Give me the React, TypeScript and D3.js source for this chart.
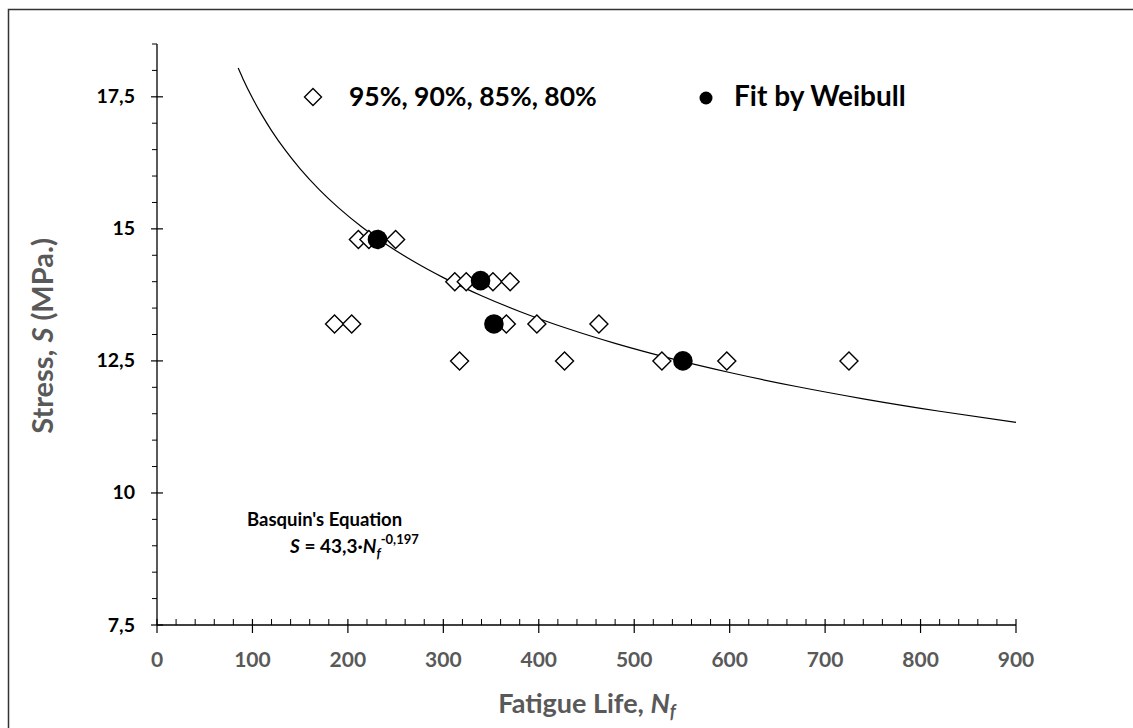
import React from "react";
import * as d3 from "d3";

// ---- data ----
const stressLevels = [14.8, 14.0, 13.2, 12.5];
const lives148 = [211, 222, 232, 250];
const lives140 = [312, 324, 352, 370];
const lives132 = [186, 204, 366, 398, 463];
const lives125 = [317, 427, 529, 597, 725];
const weibullLives = [231, 339, 353, 551];
const weibullStress = [14.8, 14.02, 13.2, 12.5];
const basquinA = 43.3;
const basquinB = -0.197;
const curveN = [85, 90, 100, 110, 120, 135, 150, 170, 190, 215, 240, 270, 300, 340, 380, 430, 480, 540, 600, 670, 740, 820, 900];
const xTicks = [0, 100, 200, 300, 400, 500, 600, 700, 800, 900];
const yTicks = [7.5, 10, 12.5, 15, 17.5];
const yTickLabels = ["7,5", "10", "12,5", "15", "17,5"];

const W = 1133;
const H = 728;
const FONT = "Lato, 'Open Sans', sans-serif";
const GREY = "#595959";

export default function App() {
  const x = d3.scaleLinear().domain([0, 900]).range([157, 1016]);
  const y = d3.scaleLinear().domain([7.5, 18.5]).range([625, 44]);

  const groups = [lives148, lives140, lives132, lives125];
  const diamonds: { n: number; s: number }[] = [];
  groups.forEach((g, i) => g.forEach((n) => diamonds.push({ n, s: stressLevels[i] })));

  const line = d3
    .line<number>()
    .x((n) => x(n))
    .y((n) => y(basquinA * Math.pow(n, basquinB)))
    .curve(d3.curveMonotoneX);

  const minorX = d3.range(0, 901, 20).filter((v) => v % 100 !== 0);
  const minorY = d3.range(7.5, 18.51, 0.5).filter((v) => Math.abs(((v - 7.5) / 2.5) - Math.round((v - 7.5) / 2.5)) > 1e-6);

  const diamond = (cx: number, cy: number, r: number) =>
    `M${cx},${cy - r}L${cx + r},${cy}L${cx},${cy + r}L${cx - r},${cy}Z`;

  return (
    <svg
      width={W}
      height={H}
      style={{ position: "absolute", left: 0, top: 0, background: "#fff" }}
      fontFamily={FONT}
    >
      <rect x={0} y={0} width={W} height={H} fill="#fff" />
      <rect x={8.5} y={9.5} width={1140} height={740} fill="none" stroke="#333" strokeWidth={1.5} />

      {/* axes */}
      <line x1={x(0)} x2={x(900)} y1={y(7.5)} y2={y(7.5)} stroke="#000" strokeWidth={1.3} />
      <line x1={x(0)} x2={x(0)} y1={y(7.5)} y2={y(18.5)} stroke="#000" strokeWidth={1.3} />
      {minorX.map((v) => (
        <line key={"mx" + v} x1={x(v)} x2={x(v)} y1={y(7.5)} y2={y(7.5) - 6} stroke="#000" strokeWidth={1} />
      ))}
      {xTicks.map((v) => (
        <line key={"Mx" + v} x1={x(v)} x2={x(v)} y1={y(7.5) - 6} y2={y(7.5) + 8} stroke="#000" strokeWidth={1.2} />
      ))}
      {minorY.map((v) => (
        <line key={"my" + v} x1={x(0) - 5} x2={x(0)} y1={y(v)} y2={y(v)} stroke="#000" strokeWidth={1} />
      ))}
      {yTicks.map((v) => (
        <line key={"My" + v} x1={x(0) - 6} x2={x(0) + 6} y1={y(v)} y2={y(v)} stroke="#000" strokeWidth={1.2} />
      ))}
      {xTicks.map((v) => (
        <text key={"tx" + v} x={x(v)} y={667} textAnchor="middle" fontSize={21} fontWeight={700} fill={GREY}>
          {v}
        </text>
      ))}
      {yTicks.map((v, i) => (
        <text key={"ty" + v} x={135} y={y(v) + 6.5} textAnchor="end" fontSize={19.5} fontWeight={700} fill="#000">
          {yTickLabels[i]}
        </text>
      ))}

      {/* axis titles */}
      <text transform="translate(53,336) rotate(-90)" textAnchor="middle" fontSize={29} fontWeight={700} fill={GREY}>
        Stress, <tspan fontStyle="italic">S</tspan> (MPa.)
      </text>
      <text x={587} y={713} textAnchor="middle" fontSize={27} fontWeight={700} fill={GREY}>
        Fatigue Life, <tspan fontStyle="italic">N</tspan>
        <tspan fontStyle="italic" fontSize={18} dy={5}>f</tspan>
      </text>

      {/* curve */}
      <path d={line(curveN) || ""} fill="none" stroke="#000" strokeWidth={1.2} />

      {/* data */}
      {diamonds.map((d, i) => (
        <path key={"d" + i} d={diamond(x(d.n), y(d.s), 9)} fill="#fff" stroke="#000" strokeWidth={1.4} />
      ))}
      {weibullLives.map((n, i) => (
        <circle key={"c" + i} cx={x(n)} cy={y(weibullStress[i])} r={9.8} fill="#000" />
      ))}

      {/* legend */}
      <path d={diamond(313, 97, 8.5)} fill="#fff" stroke="#000" strokeWidth={1.4} />
      <text x={349} y={106} fontSize={26.5} fontWeight={700} fill="#000">95%, 90%, 85%, 80%</text>
      <circle cx={706} cy={98} r={6.5} fill="#000" />
      <text x={734} y={106} fontSize={28} fontWeight={700} fill="#000">Fit by Weibull</text>

      {/* equation */}
      <text x={247} y={526} fontSize={18.5} fontWeight={700} fill="#000">Basquin's Equation</text>
      <text x={290} y={553} fontSize={19} fontWeight={700} fill="#000">
        <tspan fontStyle="italic">S</tspan> = 43,3·<tspan fontStyle="italic">N</tspan>
        <tspan fontStyle="italic" fontSize={13} dy={5}>f</tspan>
        <tspan fontSize={13} dy={-14}>-0,197</tspan>
      </text>
    </svg>
  );
}
